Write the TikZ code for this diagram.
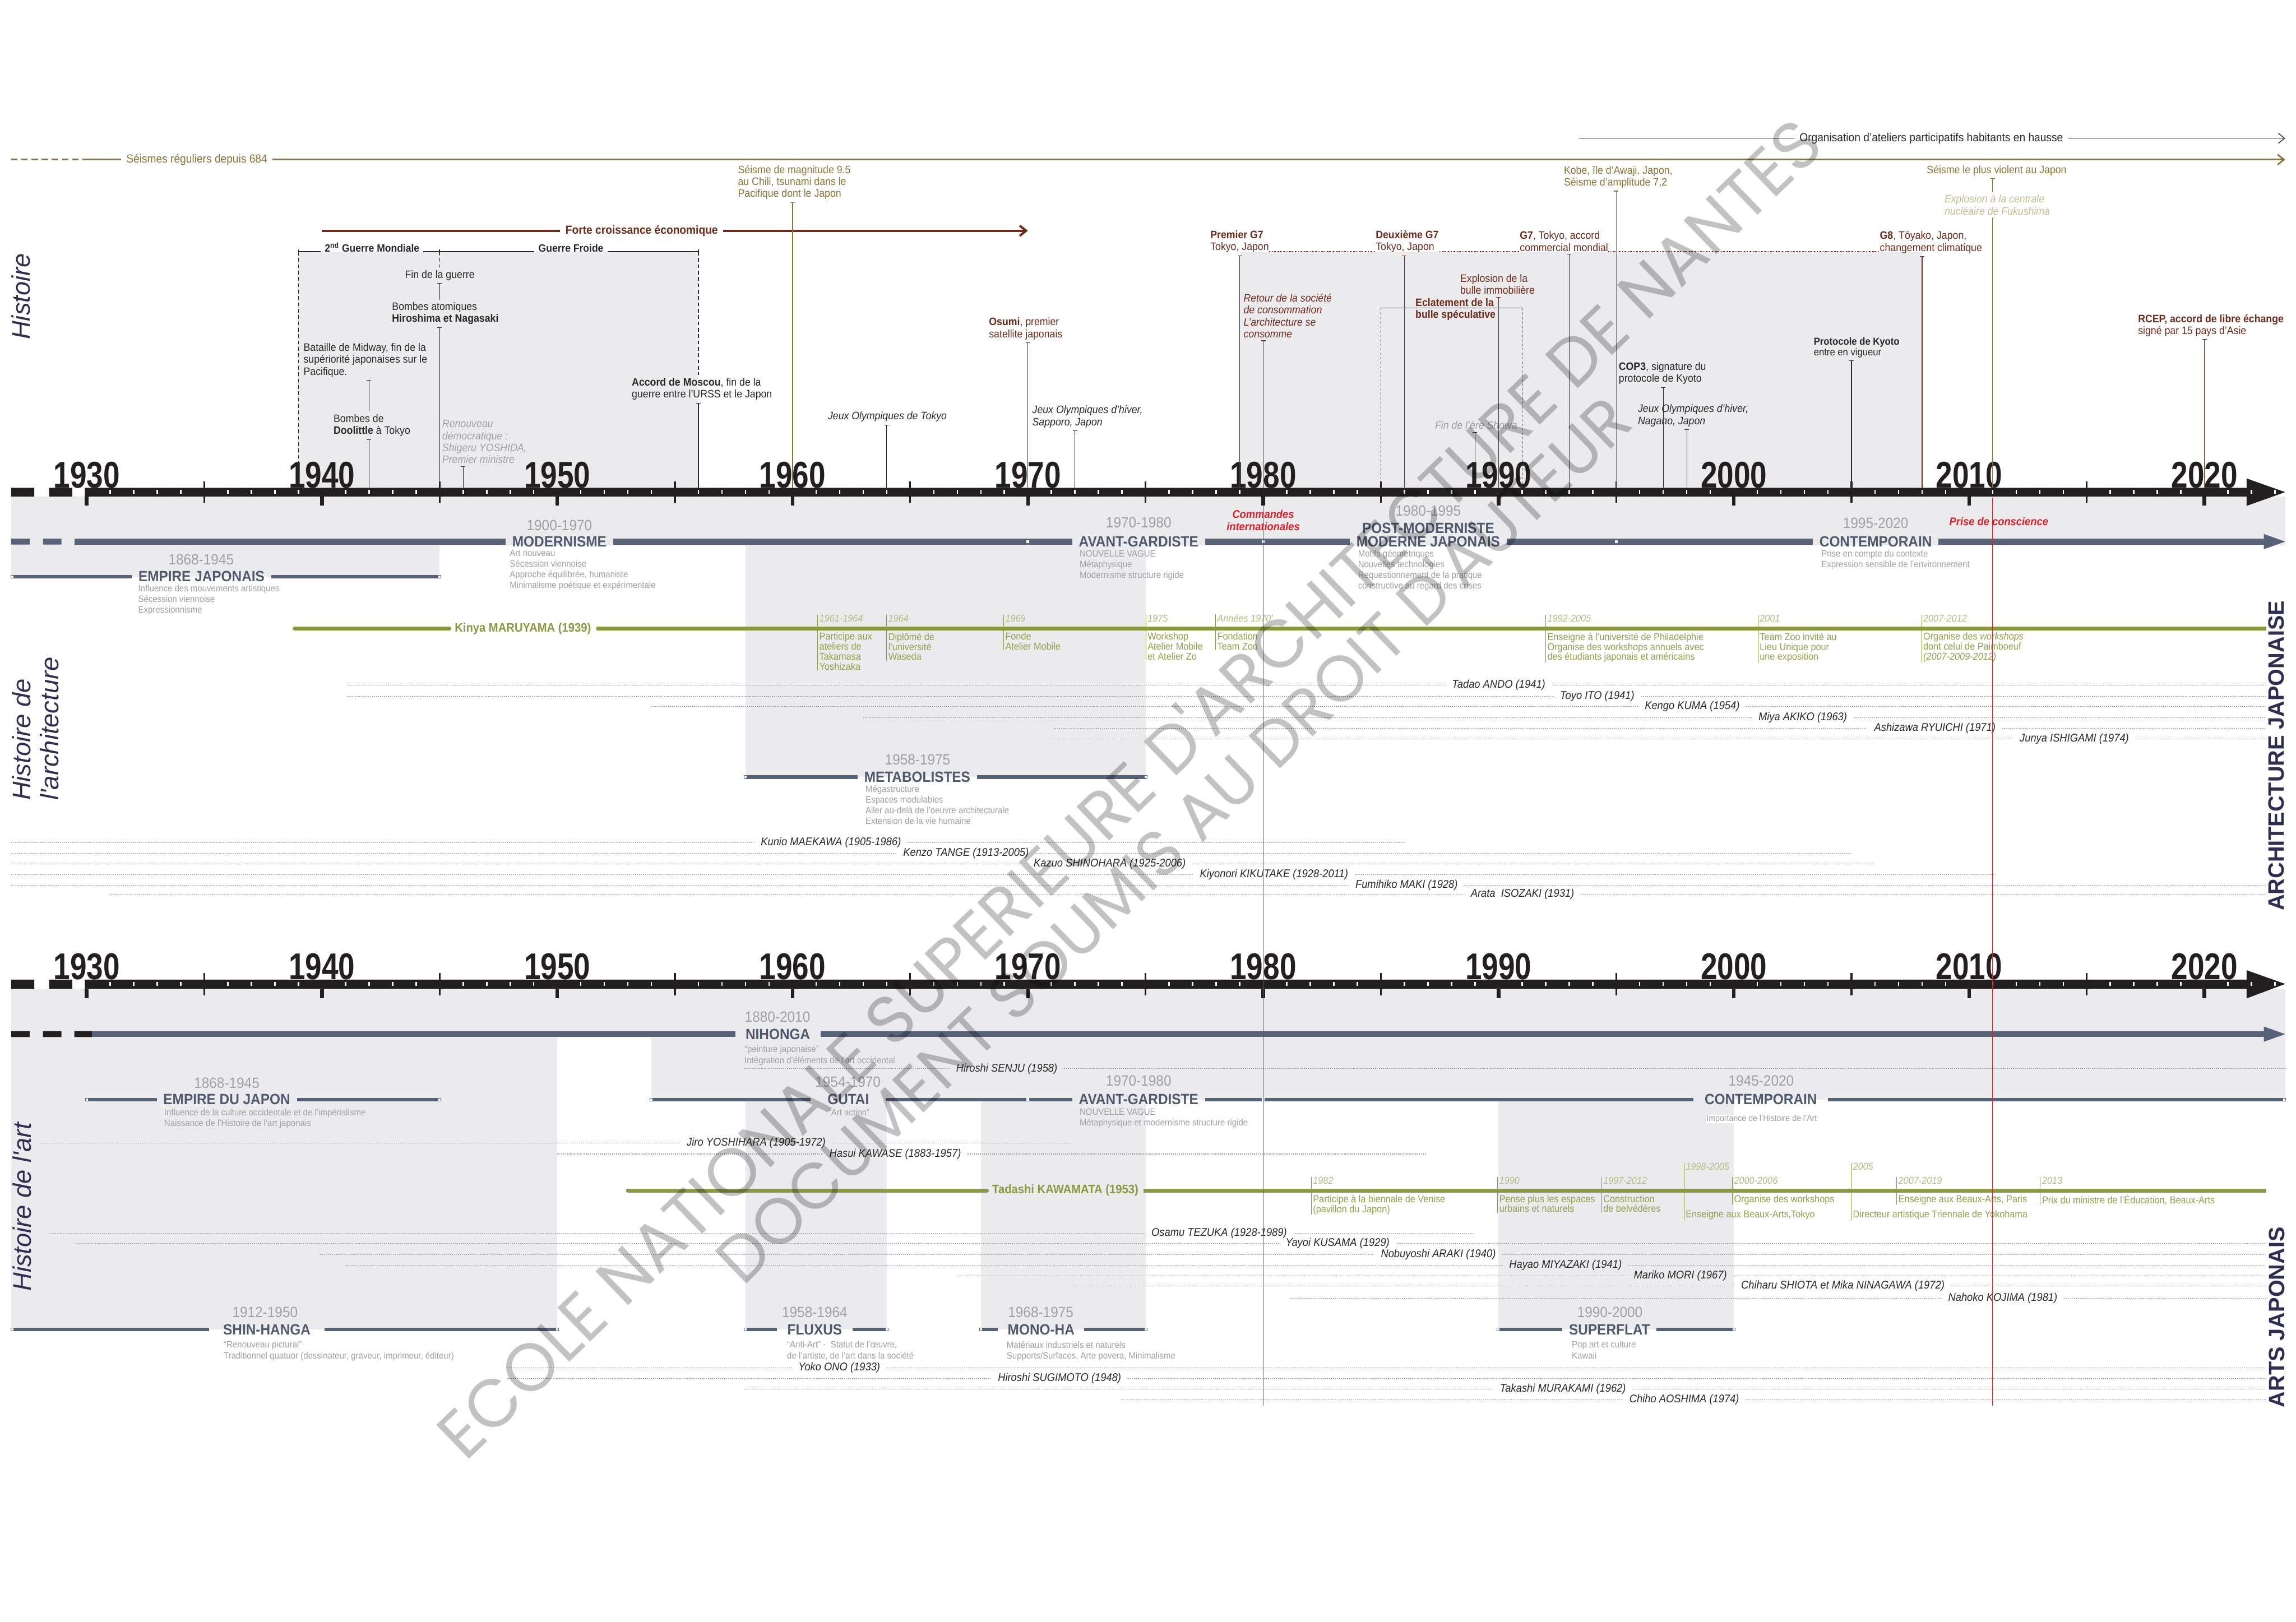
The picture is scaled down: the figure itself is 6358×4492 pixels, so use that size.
\documentclass[tikz,border=0pt]{standalone}
\usepackage{fontspec}
\setmainfont{Liberation Sans}[FakeStretch=0.92]
\newfontfamily\yrfont{Liberation Sans}[FakeStretch=0.8]
\newfontfamily\widefont{Liberation Sans}
\newfontfamily\wmfont{Poppins}
\usetikzlibrary{arrows.meta}

\definecolor{axisblack}{RGB}{35,31,32}
\definecolor{bandgray}{RGB}{235,235,237}
\definecolor{slate}{RGB}{86,98,120}
\definecolor{headslate}{RGB}{78,89,110}
\definecolor{seisme}{RGB}{140,116,52}
\definecolor{seismelight}{RGB}{200,189,142}
\definecolor{brun}{RGB}{110,43,26}
\definecolor{olivegreen}{RGB}{137,154,64}
\definecolor{olivetext}{RGB}{145,160,75}
\definecolor{olivedate}{RGB}{180,189,128}
\definecolor{navy}{RGB}{46,45,82}
\definecolor{txtgray}{RGB}{160,160,165}
\definecolor{darktxt}{RGB}{40,40,40}
\definecolor{redline}{RGB}{222,32,40}
\definecolor{rowgray}{RGB}{150,150,150}

\tikzset{every node/.append style={inner sep=0pt}}

\begin{document}
\begin{tikzpicture}[x=0.01cm, y=-0.01cm,
    yearlbl/.style={font=\yrfont\bfseries\fontsize{29.3}{30}\selectfont, text=axisblack, anchor=base},
    txt/.style={anchor=north west, align=left, inner ysep=2pt, font=\fontsize{8.5}{9.4}\selectfont, text=darktxt},
    itxt/.style={txt, font=\itshape\fontsize{8.5}{9.4}\selectfont},
    evline/.style={darktxt, line width=0.5pt, arrows={Bar[width=3.5pt]-}},
    linelbl/.style={font=\fontsize{9.2}{10}\selectfont, inner xsep=4pt},
    barb/.style={arrows={-Straight Barb[length=5pt,width=8pt]}},
    brk/.style={font=\bfseries\fontsize{8.4}{9}\selectfont, text=darktxt, inner xsep=3pt, anchor=base west},
    headg/.style={font=\bfseries\fontsize{11.7}{12}\selectfont, text=headslate, inner xsep=5pt},
    pdate/.style={font=\fontsize{11.7}{12}\selectfont, text=txtgray},
    subt/.style={anchor=north west, align=left, font=\fontsize{7.2}{8.4}\selectfont, text=txtgray},
    mbar/.style={slate, line width=4.6pt},
    sbar/.style={slate, line width=2.8pt},
    endsq/.style={draw=slate, fill=white, line width=0.5pt, minimum size=2.2pt},
    marker/.style={fill=white, minimum size=2.4pt},
    gline/.style={olivegreen, line width=3.1pt},
    greenlbl/.style={font=\bfseries\fontsize{9.7}{10}\selectfont, text=olivegreen, inner xsep=4pt},
    gdate/.style={anchor=base west, font=\itshape\fontsize{7.8}{8}\selectfont, text=olivedate, inner xsep=1.2pt},
    gdesc/.style={anchor=north west, align=left, font=\fontsize{7.8}{7.9}\selectfont, text=olivetext, inner xsep=1.2pt},
    gtick/.style={olivegreen, line width=0.4pt},
    row/.style={rowgray, line width=0.45pt, dash pattern=on 0.8pt off 0.8pt},
    namelbl/.style={font=\itshape\fontsize{8.8}{9}\selectfont, text=darktxt, inner xsep=5pt},
    redlbl/.style={font=\bfseries\itshape\fontsize{8.8}{10}\selectfont, text=redline, align=center},
    vlbl/.style={font=\widefont\itshape\fontsize{20}{22}\selectfont, text=navy, rotate=90, align=left},
    vbig/.style={font=\widefont\bfseries\fontsize{17.5}{18}\selectfont, text=navy, rotate=90},
    wm/.style={text=black, text opacity=0.24, rotate=44}
  ]
\useasboundingbox (0,0) rectangle (6358,4492);
\fill[white] (0,0) rectangle (6358,4492);

% annees sur la frise du haut
\foreach \y in {1930,...,2024}
  \coordinate (t\y) at ({240+(\y-1930)*65.16},1351);

% fonds gris
\fill[bandgray] (t1939 |- 0,697) rectangle (t1956);
\fill[bandgray] (t1979 |- 0,697) rectangle (t2008);
\fill[bandgray] (31,1375) rectangle (6328,1510);
\fill[bandgray] (31,1510) rectangle (t1945 |- 0,1597);
\fill[bandgray] (t1958 |- 0,1510) rectangle (t1975 |- 0,2152);
\fill[bandgray] (31,2739) rectangle (6328,2873);
\fill[bandgray] (31,2873) rectangle (t1950 |- 0,3682);
\fill[bandgray] (t1954 |- 0,2873) rectangle (6328,3045);
\fill[bandgray] (t1958 |- 0,3045) rectangle (t1964 |- 0,3682);
\fill[bandgray] (t1968 |- 0,3045) rectangle (t1975 |- 0,3682);
\fill[bandgray] (t1990 |- 0,3045) rectangle (t2000 |- 0,3682);

% les deux frises
\foreach \bt/\bb in {1351/1375, 2713/2739}{
  \fill[axisblack] (31,\bt) rectangle (95,\bb) (136,\bt) rectangle (200,\bb) (235,\bt) rectangle (6221,\bb);
  \fill[axisblack] (6221,\bt-26) -- (6328,\bt+12) -- (6221,\bb+26) -- cycle;
  \foreach \y in {1930,...,2024}{
    \pgfmathsetmacro\xx{240+(\y-1930)*65.16}
    \pgfmathtruncatemacro\mt{mod(\y,10)}
    \pgfmathtruncatemacro\mf{mod(\y,5)}
    \ifnum\mt=0
      \fill[axisblack] (\xx-5,\bb) rectangle (\xx+5,\bb+25);
      \node[yearlbl] (yr\y\bt) at (\xx,\bt) {\y};
    \else\ifnum\mf=0
      \fill[axisblack] (\xx-2.5,\bt-18) rectangle (\xx+2.5,\bb+18);
    \else
      \fill[white] (\xx-2,\bt+6) rectangle (\xx+2,\bt+17);
    \fi\fi
  }
}

% ---------- Histoire ----------
\node[vlbl] (hist) at (58,821) {Histoire};

\node[linelbl, text=seisme] (seis) at (545,442) {Séismes réguliers depuis 684};
\draw[seisme, line width=1.2pt, dash pattern=on 5pt off 3pt] (31,442) -- (230,442);
\draw[seisme, line width=1.2pt] (230,442) -- (seis.west);
\draw[seisme, line width=1.2pt, barb] (seis.east) -- (6328,442);

\node[linelbl, text=darktxt] (orga) at (5348,383) {Organisation d’ateliers participatifs habitants en hausse};
\draw[darktxt, line width=0.6pt] (4373,383) -- (orga.west);
\draw[darktxt, line width=0.6pt, barb] (orga.east) -- (6328,383);

\node[linelbl, text=brun, font=\bfseries\fontsize{9.2}{10}\selectfont] (forte) at (1777,639) {Forte croissance économique};
\draw[brun, line width=1.8pt] (t1940 |- 0,639) -- (forte.west);
\draw[brun, line width=1.8pt, barb] (forte.east) -- (t1970 |- 0,639);

% guerres
\node[brk] (ww2) at (888,697) {2\textsuperscript{nd} Guerre Mondiale};
\node[brk] (cold) at (1480,697) {Guerre Froide};
\draw[darktxt, line width=0.8pt] (t1939 |- 0,697) -- (ww2.base west) (ww2.base east) -- (cold.base west) (cold.base east) -- (t1956 |- 0,697);
\foreach \yr in {1939,1945,1956}
  \draw[darktxt, line width=0.8pt] (t\yr |- 0,690) -- (t\yr |- 0,705);
\draw[darktxt, line width=0.5pt, dash pattern=on 3pt off 2pt] (t1939 |- 0,697) -- (t1939);

\node[txt, anchor=north] (fin) at (1218,741) {Fin de la guerre};
\node[txt] (bombes) at (1085,830) {Bombes atomiques\\\textbf{Hiroshima et Nagasaki}};
\draw[darktxt, line width=0.5pt, dash pattern=on 3pt off 2pt] (t1945 |- 0,697) -- (fin.north -| t1945);
\draw[evline] (fin.south -| t1945) -- (bombes.north -| t1945);
\draw[evline] (bombes.south -| t1945) -- (t1945);

\node[txt] (midway) at (840,943) {Bataille de Midway, fin de la\\supériorité japonaises sur le\\Pacifique.};
\node[txt] (doolittle) at (923,1140) {Bombes de\\\textbf{Doolittle} à Tokyo};
\draw[evline] (midway.south -| t1942) -- (doolittle.north -| t1942);
\draw[evline] (doolittle.south -| t1942) -- (t1942);

\node[itxt, text=txtgray] (renouv) at (1224,1156) {Renouveau\\démocratique :\\Shigeru YOSHIDA,\\Premier ministre};
\draw[evline] (renouv.south -| t1946) -- (t1946);

\node[txt] (moscou) at (1749,1039) {\textbf{Accord de Moscou}, fin de la\\guerre entre l’URSS et le Japon};
\draw[darktxt, line width=0.5pt, dash pattern=on 3pt off 2pt] (t1956 |- 0,697) -- (moscou.north -| t1956);
\draw[evline] (moscou.south -| t1956) -- (t1956);

\node[txt, text=seisme] (chili) at (2043,450) {Séisme de magnitude 9.5\\au Chili, tsunami dans le\\Pacifique dont le Japon};
\draw[evline, seisme] (chili.south -| t1960) -- (t1960);

\node[itxt] (jotokyo) at (2292,1133) {Jeux Olympiques de Tokyo};
\draw[evline] (jotokyo.south -| t1964) -- (t1964);

\node[txt, text=brun] (osumi) at (2738,872) {\textbf{Osumi}, premier\\satellite japonais};
\draw[evline, brun] (osumi.south -| t1970) -- (t1970);

\node[itxt] (sapporo) at (2858,1116) {Jeux Olympiques d’hiver,\\Sapporo, Japon};
\draw[evline] (sapporo.south -| t1972) -- (t1972);

% sommets G7
\node[txt, text=brun] (premier) at (3351,631) {\textbf{Premier G7}\\Tokyo, Japon};
\node[txt, text=brun] (deux) at (3809,631) {\textbf{Deuxième G7}\\Tokyo, Japon};
\node[txt, text=brun] (g7b) at (4208,633) {\textbf{G7}, Tokyo, accord\\commercial mondial};
\node[txt, text=brun] (g8) at (5205,633) {\textbf{G8}, Tōyako, Japon,\\changement climatique};
\draw[brun, line width=0.9pt, dash pattern=on 0.6pt off 0.6pt] (premier.east |- 0,697) -- (deux.west |- 0,697) (deux.east |- 0,697) -- (g7b.west |- 0,697) (g7b.east |- 0,697) -- (g8.west |- 0,697);
\draw[evline, brun] (premier.south -| t1979) -- (t1979);
\draw[evline, brun] (deux.south -| t1986) -- (t1986);
\draw[evline, brun] (g7b.south -| t1993) -- (t1993);
\draw[evline, brun] (g8.south -| t2008) -- (t2008);

\node[txt, text=seisme] (kobe) at (4330,452) {Kobe, île d’Awaji, Japon,\\Séisme d’amplitude 7,2};
\draw[evline, seisme] (kobe.south -| t1995) -- (t1995);

\node[itxt, text=brun] (retour) at (3443,806) {Retour de la société\\de consommation\\L’architecture se\\consomme};
\draw[evline, brun] (retour.south -| t1980) -- (t1980);

\node[txt, text=brun] (bulle) at (4043,752) {Explosion de la\\bulle immobilière};
\draw[evline, brun] (bulle.south -| t1990) -- (t1990);

\node[txt, text=brun, font=\bfseries\fontsize{8.5}{9.4}\selectfont] (eclat) at (3919,819) {Eclatement de la\\bulle spéculative};
\draw[brun, line width=0.5pt] (t1985 |- 0,853) -- (t1991 |- 0,853);
\draw[brun, line width=0.5pt, dash pattern=on 2pt off 1.5pt] (t1985 |- 0,853) -- (t1985) (t1991 |- 0,853) -- (t1991);

\node[itxt, text=txtgray] (showa) at (3973,1159) {Fin de l’ère Showa};
\draw[evline] (showa.south -| t1989) -- (t1989);

\node[txt] (cop3) at (4482,996) {\textbf{COP3}, signature du\\protocole de Kyoto};
\draw[evline] (cop3.south -| t1997) -- (t1997);

\node[itxt] (nagano) at (4535,1113) {Jeux Olympiques d’hiver,\\Nagano, Japon};
\draw[evline] (nagano.south -| t1998) -- (t1998);

\node[txt, font=\fontsize{8}{8.3}\selectfont] (kyoto) at (5022,927) {\textbf{Protocole de Kyoto}\\entre en vigueur};
\draw[evline] (kyoto.south -| t2005) -- (t2005);

\node[txt, text=seisme] (seis11) at (5335,450) {Séisme le plus violent au Japon};
\node[itxt, text=seismelight] (fuku) at (5384,532) {Explosion à la centrale\\nucléaire de Fukushima};
\draw[evline, seisme] (seis11.south -| t2011) -- (fuku.north -| t2011);
\draw[seisme, line width=0.5pt] (fuku.south -| t2011) -- (t2011);

\node[txt, text=brun, font=\fontsize{8.5}{9.1}\selectfont] (rcep) at (5920,864) {\textbf{RCEP, accord de libre échange}\\signé par 15 pays d’Asie};
\draw[evline, brun] (rcep.south -| t2020) -- (t2020);

% ---------- Histoire de l'architecture ----------
\node[vlbl] (histarchi) at (98,2018) {Histoire de\\l'architecture};
\node[vbig] (archjap) at (6303,2093) {ARCHITECTURE JAPONAISE};

\node[headg] (modern) at (1549,1500) {MODERNISME};
\node[headg] (avant) at (3153,1500) {AVANT-GARDISTE};
\node[headg] (postmj) at (3955,1500) {MODERNE JAPONAIS};
\node[headg] (postm) at (3955,1462) {POST-MODERNISTE};
\node[headg] (contemp) at (5194,1500) {CONTEMPORAIN};
\fill[slate] (31,1492) rectangle (82,1508) (119,1492) rectangle (170,1508);
\draw[mbar] (206,1500) -- (modern.west) (modern.east) -- (avant.west) (avant.east) -- (postmj.west) (postmj.east) -- (contemp.west) (contemp.east) -- (6269,1500);
\fill[slate] (6269,1479) -- (6328,1500) -- (6269,1521) -- cycle;
\node[marker] (mk1) at (t1970 |- 0,1500) {};
\node[marker] (mk2) at (t1980 |- 0,1500) {};
\node[marker] (mk3) at (t1995 |- 0,1500) {};
\node[pdate] (modernd) at (1549,1455) {1900-1970};
\node[pdate] (avantd) at (3153,1448) {1970-1980};
\node[pdate] (postd) at (3955,1415) {1980-1995};
\node[pdate] (contempd) at (5194,1449) {1995-2020};
\node[subt] (moderns) at (1411,1523) {Art nouveau\\Sécession viennoise\\Approche équilibrée, humaniste\\Minimalisme poétique et expérimentale};
\node[subt] (avants) at (2989,1523) {NOUVELLE VAGUE\\Métaphysique\\Modernisme structure rigide};
\node[subt] (posts) at (3760,1523) {Motifs géométriques\\Nouvelles technologies\\Requestionnement de la pratique\\constructive au regard des crises};
\node[subt] (contemps) at (5043,1523) {Prise en compte du contexte\\Expression sensible de l’environnement};
\node[redlbl] (cmd) at (3498,1441) {Commandes\\internationales};
\node[redlbl] (prise) at (5535,1444) {Prise de conscience};

\node[headg] (empj) at (558,1597) {EMPIRE JAPONAIS};
\draw[sbar] (34,1597) -- (empj.west) (empj.east) -- (t1945 |- 0,1597);
\node[endsq] (empja) at (34,1597) {};
\node[endsq] (empjb) at (t1945 |- 0,1597) {};
\node[pdate] (empjd) at (557,1550) {1868-1945};
\node[subt] (empjs) at (382,1619) {Influence des mouvements artistiques\\Sécession viennoise\\Expressionnisme};

\node[headg] (metab) at (2540,2152) {METABOLISTES};
\draw[sbar] (t1958 |- 0,2152) -- (metab.west) (metab.east) -- (t1975 |- 0,2152);
\node[endsq] (metaba) at (t1958 |- 0,2152) {};
\node[endsq] (metabb) at (t1975 |- 0,2152) {};
\node[pdate] (metabd) at (2541,2104) {1958-1975};
\node[subt] (metabs) at (2396,2174) {Mégastructure\\Espaces modulables\\Aller au-delà de l’oeuvre architecturale\\Extension de la vie humaine};

% Kinya Maruyama
\node[greenlbl] (maru) at (1448,1741) {Kinya MARUYAMA (1939)};
\draw[gline, line cap=round] (816,1741) -- (maru.west);
\draw[gline] (maru.east) -- (6275,1741);
\foreach \xe/\dt/\ds [count=\nn] in {
    2264/1961-1964/{Participe aux\\ateliers de\\Takamasa\\Yoshizaka},
    2455/1964/{Diplômé de\\l’université\\Waseda},
    2779/1969/{Fonde\\Atelier Mobile},
    3173/1975/{Workshop\\Atelier Mobile\\et Atelier Zo},
    3366/{Années 1970’}/{Fondation\\Team Zoo},
    4280/1992-2005/{Enseigne à l’université de Philadelphie\\Organise des workshops annuels avec\\des étudiants japonais et américains},
    4868/2001/{Team Zoo invité au\\Lieu Unique pour\\une exposition},
    5321/2007-2012/{Organise des \textit{workshops}\\dont celui de Paimboeuf\\\textit{(2007-2009-2012)}}}{
  \node[gdate] (md\nn) at (\xe,1722) {\dt};
  \node[gdesc] (mt\nn) at (\xe,1752) {\ds};
  \draw[gtick] (md\nn.north west) -- (mt\nn.south west);
}

% architectes
\foreach \yy/\xa/\xc/\xb/\nm [count=\nn] in {
    1897/962/4150/6275/{Tadao ANDO (1941)},
    1928/962/4423/6275/{Toyo ITO (1941)},
    1957/1804/4686/6275/{Kengo KUMA (1954)},
    1987/2391/4992/6275/{Miya AKIKO (1963)},
    2017/2916/5358/6275/{Ashizawa RYUICHI (1971)},
    2047/2916/5744/6275/{Junya ISHIGAMI (1974)},
    2334/31/2301/3890/{Kunio MAEKAWA (1905-1986)},
    2363/31/2675/5128/{Kenzo TANGE (1913-2005)},
    2393/31/3073/5192/{Kazuo SHINOHARA (1925-2006)},
    2422/31/3528/5525/{Kiyonori KIKUTAKE (1928-2011)},
    2452/31/3895/6275/{Fumihiko MAKI (1928)},
    2477/306/4216/6275/{Arata\ \ ISOZAKI (1931)}}{
  \node[namelbl] (arc\nn) at (\xc,\yy) {\nm};
  \draw[row] (\xa,\yy) -- (arc\nn.west);
  \draw[row] (arc\nn.east) -- (\xb,\yy);
}

% ---------- Histoire de l'art ----------
\node[vlbl] (histart) at (61,3342) {Histoire de l'art};
\node[vbig] (artsjap) at (6305,3648) {ARTS JAPONAIS};

\fill[axisblack] (31,2856) rectangle (82,2872) (119,2856) rectangle (170,2872) (206,2856) rectangle (255,2872);
\node[headg, inner xsep=8pt] (nih) at (2154,2864) {NIHONGA};
\draw[mbar] (255,2864) -- (nih.west) (nih.east) -- (6269,2864);
\fill[slate] (6269,2843) -- (6328,2864) -- (6269,2885) -- cycle;
\node[pdate] (nihd) at (2153,2817) {1880-2010};
\node[subt] (nihs) at (2061,2896) {“peinture japonaise”\\Intégration d’éléments de l’art occidental};

\node[headg] (empdj) at (628,3045) {EMPIRE DU JAPON};
\draw[sbar] (t1930 |- 0,3045) -- (empdj.west) (empdj.east) -- (t1945 |- 0,3045);
\node[endsq] (empdja) at (t1930 |- 0,3045) {};
\node[endsq] (empdjb) at (t1945 |- 0,3045) {};
\node[pdate] (empdjd) at (628,2999) {1868-1945};
\node[subt] (empdjs) at (454,3070) {Influence de la culture occidentale et de l’impérialisme\\Naissance de l’Histoire de l’art japonais};

\node[headg, inner xsep=13pt] (gutai) at (2349,3045) {GUTAI};
\node[headg] (avant2) at (3153,3045) {AVANT-GARDISTE};
\node[headg, inner xsep=8.5pt] (contemp2) at (4876,3045) {CONTEMPORAIN};
\draw[sbar] (t1954 |- 0,3045) -- (gutai.west) (gutai.east) -- (avant2.west) (avant2.east) -- (contemp2.west) (contemp2.east) -- (6325,3045);
\node[endsq] (gutaia) at (t1954 |- 0,3045) {};
\node[endsq] (contemp2b) at (6325,3045) {};
\node[marker, minimum size=2pt] (mk4) at (t1970 |- 0,3045) {};
\node[marker, minimum size=2pt] (mk5) at (t1980 |- 0,3045) {};
\node[pdate] (gutaid) at (2348,2997) {1954-1970};
\node[pdate] (avant2d) at (3153,2993) {1970-1980};
\node[pdate] (contemp2d) at (4877,2993) {1945-2020};
\node[subt, anchor=north] (gutais) at (2351,3070) {“Art action”};
\node[subt] (avant2s) at (2989,3070) {NOUVELLE VAGUE\\Métaphysique et modernisme structure rigide};
\node[subt, fill=white, font=\fontsize{6.8}{8}\selectfont] (contemp2s) at (4725,3087) {Importance de l’Histoire de l’Art};

% Tadashi Kawamata
\node[greenlbl] (kaw) at (2950,3297) {Tadashi KAWAMATA (1953)};
\draw[gline, line cap=round] (t1953 |- 0,3297) -- (kaw.west);
\draw[gline] (kaw.east) -- (6275,3297);
\foreach \xe/\dy/\dt/\ty/\ds [count=\nn] in {
    3631/3279/1982/3309/{Participe à la biennale de Venise\\(pavillon du Japon)},
    4147/3279/1990/3309/{Pense plus les espaces\\urbains et naturels},
    4435/3279/1997-2012/3309/{Construction\\de belvédères},
    4663/3240/1998-2005/3352/{Enseigne aux Beaux-Arts,Tokyo},
    4797/3279/2000-2006/3309/{Organise des workshops},
    5126/3240/2005/3352/{Directeur artistique Triennale de Yokohama},
    5252/3279/2007-2019/3309/{Enseigne aux Beaux-Arts, Paris},
    5650/3279/2013/3309/{Prix du ministre de l’Éducation, Beaux-Arts}}{
  \node[gdate] (kd\nn) at (\xe,\dy) {\dt};
  \node[gdesc] (kt\nn) at (\xe,\ty) {\ds};
  \draw[gtick] (kd\nn.north west) -- (kt\nn.south west);
}

% artistes
\foreach \yy/\xa/\xc/\xb/\nm [count=\nn] in {
    2960/2061/2788/6328/{Hiroshi SENJU (1958)},
    3165/112/2094/2972/{Jiro YOSHIHARA (1905-1972)},
    3196/1543/2479/3951/{Hasui KAWASE (1883-1957)},
    3415/136/3376/4080/{Osamu TEZUKA (1928-1989)},
    3444/208/3704/6275/{Yayoi KUSAMA (1929)},
    3474/886/3983/6275/{Nobuyoshi ARAKI (1940)},
    3504/959/4335/6275/{Hayao MIYAZAKI (1941)},
    3534/2654/4653/6275/{Mariko MORI (1967)},
    3562/2974/5103/6275/{Chiharu SHIOTA et Mika NINAGAWA (1972)},
    3596/3573/5546/6275/{Nahoko KOJIMA (1981)},
    3788/1403/2324/6275/{Yoko ONO (1933)},
    3818/1403/2934/6275/{Hiroshi SUGIMOTO (1948)},
    3847/2061/4328/6275/{Takashi MURAKAMI (1962)},
    3876/3105/4664/6275/{Chiho AOSHIMA (1974)}}{
  \node[namelbl] (art\nn) at (\xc,\yy) {\nm};
  \draw[row] (\xa,\yy) -- (art\nn.west);
  \draw[row] (art\nn.east) -- (\xb,\yy);
}

\node[headg, inner xsep=11pt] (shin) at (739,3682) {SHIN-HANGA};
\draw[sbar] (34,3682) -- (shin.west) (shin.east) -- (t1950 |- 0,3682);
\node[endsq] (shina) at (34,3682) {};
\node[endsq] (shinb) at (t1950 |- 0,3682) {};
\node[pdate] (shind) at (734,3635) {1912-1950};
\node[subt] (shins) at (619,3714) {“Renouveau pictural”\\Traditionnel quatuor (dessinateur, graveur, imprimeur, éditeur)};

\node[headg, inner xsep=8pt] (flux) at (2256,3682) {FLUXUS};
\draw[sbar] (t1958 |- 0,3682) -- (flux.west) (flux.east) -- (t1964 |- 0,3682);
\node[endsq] (fluxa) at (t1958 |- 0,3682) {};
\node[endsq] (fluxb) at (t1964 |- 0,3682) {};
\node[pdate] (fluxd) at (2256,3635) {1958-1964};
\node[subt] (fluxs) at (2179,3714) {“Anti-Art” -\ \ Statut de l’œuvre,\\de l’artiste, de l’art dans la société};

\node[headg, inner xsep=7.5pt] (monoha) at (2883,3682) {MONO-HA};
\draw[sbar] (t1968 |- 0,3682) -- (monoha.west) (monoha.east) -- (t1975 |- 0,3682);
\node[endsq] (monohaa) at (t1968 |- 0,3682) {};
\node[endsq] (monohab) at (t1975 |- 0,3682) {};
\node[pdate] (monohad) at (2882,3635) {1968-1975};
\node[subt] (monohas) at (2787,3714) {Matériaux industriels et naturels\\Supports/Surfaces, Arte povera, Minimalisme};

\node[headg] (sflat) at (4457,3682) {SUPERFLAT};
\draw[sbar] (t1990 |- 0,3682) -- (sflat.west) (sflat.east) -- (t2000 |- 0,3682);
\node[endsq] (sflata) at (t1990 |- 0,3682) {};
\node[endsq] (sflatb) at (t2000 |- 0,3682) {};
\node[pdate] (sflatd) at (4458,3635) {1990-2000};
\node[subt] (sflats) at (4352,3714) {Pop art et culture\\Kawaii};

% reperes rouges
\draw[redline, line width=0.5pt] (t1980 |- 0,1400) -- (t1980 |- 0,3893);
\draw[redline, line width=0.5pt] (t2011 |- 0,1378) -- (t2011 |- 0,3893);

% filigrane
\node[wm, font=\wmfont\fontsize{53}{55}\selectfont] (wm1) at (3122,2178) {ECOLE NATIONALE SUPERIEURE D'ARCHITECTURE DE NANTES};
\node[wm, font=\wmfont\fontsize{51}{53}\selectfont] (wm2) at (3244,2320) {DOCUMENT SOUMIS AU DROIT D'AUTEUR};
\end{tikzpicture}
\end{document}
